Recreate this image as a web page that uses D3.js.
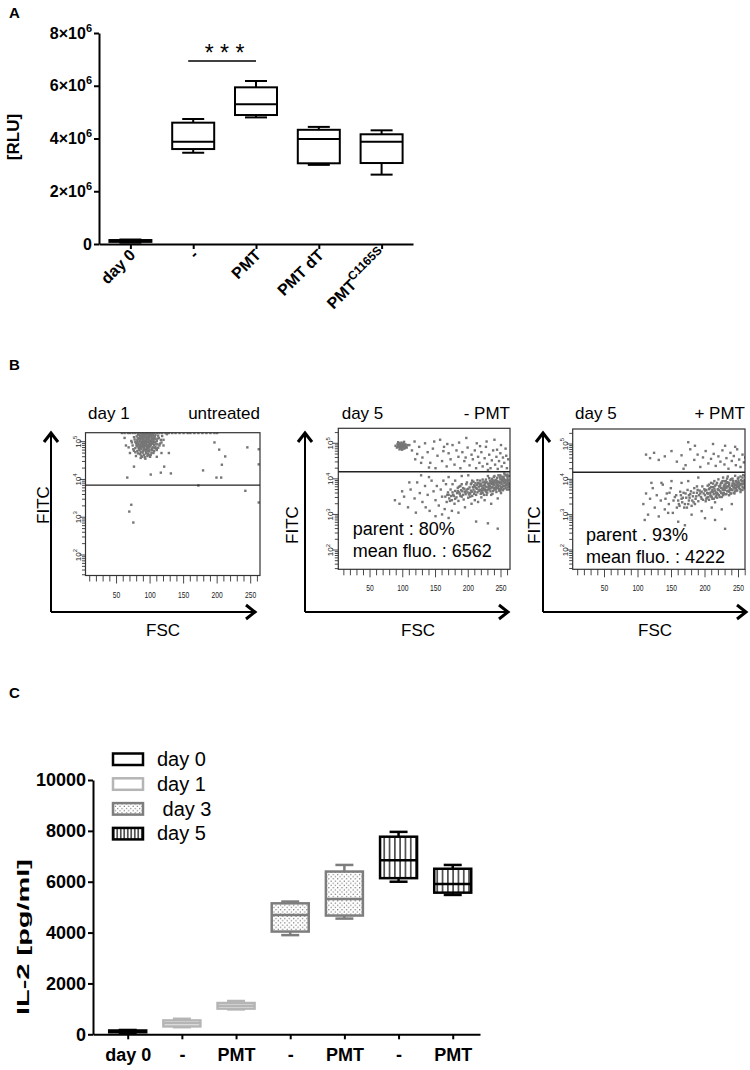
<!DOCTYPE html>
<html>
<head>
<meta charset="utf-8">
<script src="https://cdn.jsdelivr.net/npm/d3@7"></script>
<style>
  body { margin: 0; background: #fff; }
  svg { display: block; }
</style>
</head>
<body>
<div id="fig"></div>
<script>
// ---------- panel A : luciferase [RLU] ----------
var aCats = ["day 0", "-", "PMT", "PMT dT", "PMT C1165S"];
var aMin = [50000, 3460000, 4800000, 3000000, 2630000];
var aQ1  = [80000, 3600000, 4890000, 3060000, 3070000];
var aMed = [120000, 3880000, 5300000, 3980000, 3880000];
var aQ3  = [150000, 4600000, 5940000, 4330000, 4160000];
var aMax = [170000, 4740000, 6180000, 4440000, 4310000];
var aTicks = [0, 2e6, 4e6, 6e6, 8e6];

// ---------- panel C : IL-2 [pg/ml] ----------
var cLabels = ["day 0", "-", "PMT", "-", "PMT", "-", "PMT"];
var cDay    = ["day 0", "day 1", "day 1", "day 3", "day 3", "day 5", "day 5"];
var cMin = [40, 280, 980, 3900, 4550, 6000, 5480];
var cQ1  = [80, 310, 1010, 4040, 4670, 6140, 5570];
var cMed = [110, 430, 1120, 4690, 5320, 6840, 5910];
var cQ3  = [150, 545, 1230, 5150, 6400, 7770, 6510];
var cMax = [170, 610, 1310, 5220, 6660, 7960, 6660];
var cTicks = [0, 2000, 4000, 6000, 8000, 10000];
var legendDays = ["day 0", "day 1", " day 3", "day 5"];

// ---------- panel B : flow cytometry events [FSC, log10 FITC] ----------
var flow1Pts = [
  [88,5.18],[92,5.2],[96,5.19],[100,5.21],[104,5.17],[85,5.15],[90,5.14],[94,5.16],[98,5.15],[102,5.13],[106,5.12],
  [83,5.1],[87,5.11],[91,5.09],[95,5.1],[99,5.11],[103,5.08],[108,5.07],[81,5.05],[86,5.06],[89,5.04],[93,5.05],
  [97,5.06],[101,5.03],[105,5.04],[110,5.02],[84,5.0],[88,4.99],[92,5.01],[96,4.98],[100,5.0],[104,4.97],[107,4.99],
  [79,4.96],[82,4.94],[86,4.95],[90,4.93],[94,4.95],[98,4.92],[102,4.94],[106,4.91],[111,4.93],[80,4.88],[84,4.9],
  [88,4.87],[92,4.89],[96,4.86],[100,4.88],[104,4.85],[108,4.87],[78,4.83],[83,4.82],[87,4.8],[91,4.83],[95,4.81],
  [99,4.79],[103,4.82],[76,4.76],[81,4.75],[86,4.73],[90,4.76],[94,4.72],[98,4.74],[102,4.71],[85,4.67],[91,4.65],
  [97,4.68],[88,4.6],[79,4.62],[105,4.7],[110,4.78],[74,4.9],[72,5.02],[76,5.12],[113,5.1],[115,4.95],[68,4.85],
  [112,4.84],[93,4.55],[100,4.6],[70,4.7],[118,5.15],[120,5.05],[89,5.22],[95,5.23],[101,5.18],[97,5.13],[93,5.12],
  [89,5.08],[85,5.03],[91,4.97],[99,4.96],[95,4.9],[89,4.91],[97,4.84],[93,4.78],[89,4.71],[83,4.86],[107,5.14],
  [109,4.95],[87,5.16],[91,5.19],[95,5.06],[99,5.02],[103,4.99],[87,4.97],[93,4.93],[97,4.9],[101,4.91],[91,4.86],
  [85,4.84],[95,4.76],[99,4.85],[105,4.94],[82,5.08],[106,5.09],[90,5.0],[94,5.02],[98,5.08],[102,5.06],[86,4.9],
  [73,4.98],[77,5.06],[80,5.14],[84,5.19],[88,5.13],[92,5.17],[96,5.21],[100,5.16],[104,5.2],[108,5.18],[112,5.16],
  [116,5.05],[75,4.8],[78,4.72],[82,4.69],[87,4.63],[92,4.59],[96,4.62],[101,4.65],[106,4.75],[109,4.82],[114,4.9],
  [117,4.98],[81,4.99],[85,4.92],[89,4.96],[93,4.98],[97,5.0],[101,4.97],[105,5.01],[87,4.85],[91,4.8],[95,4.84],
  [99,4.77],[103,4.78],[84,4.78],[80,4.92],[107,4.83],[103,5.11],[99,5.18],[85,5.09],[90,5.11],[111,5.08],[94,4.69],
  [98,4.65],[86,4.57],[82,5.18],[78,5.0],[120,4.9],[64,4.9],[62,5.1],[125,5.2],[128,4.7],[110,4.6],[117,4.7],
  [58,5.23],[62,5.23],[67,5.23],[70,5.23],[74,5.23],[78,5.23],[82,5.23],[86,5.23],[90,5.23],[94,5.23],[98,5.23],
  [102,5.23],[106,5.23],[110,5.23],[114,5.23],[118,5.23],[123,5.23],[128,5.23],[133,5.23],[138,5.23],[144,5.23],
  [150,5.23],[156,5.23],[160,5.23],[166,5.23],[172,5.23],[178,5.23],[184,5.23],[190,5.23],[196,5.23],[200,5.23],
  [196,4.98],[203,4.79],[212,4.61],[207,4.39],[245,4.85],[179,4.24],[172,3.84],[242,3.7],[262,3.39],[72,3.33],
  [69,3.15],[75,2.86],[121,4.34],[131,4.16],[116,4.18],[76,4.34],[101,4.13],[66,4.05],[199,4.05],[206,4.05],
  [262,4.8],[262,4.4]
];
var flow2Pts = [
  [92,4.98],[95,5.0],[98,5.02],[101,4.99],[104,4.97],[93,4.93],[96,4.95],[99,4.94],[102,4.92],[105,4.9],[91,4.88],
  [94,4.9],[97,4.87],[100,4.89],[103,4.86],[95,4.83],[99,4.82],[97,4.97],[100,4.96],[94,4.95],[98,4.91],[96,4.85],
  [102,5.04],[107,4.95],[89,4.93],[101,4.85],[93,5.03],[106,4.88],[96,4.91],[99,4.98],[103,4.94],
  [110,4.95],[114,4.8],[118,5.05],[122,4.7],[125,4.9],[130,4.6],[134,5.0],[138,4.75],[142,4.45],[146,4.85],[150,4.3],
  [153,4.65],[157,5.1],[160,4.5],[163,4.9],[167,4.35],[170,4.72],[173,4.55],[176,4.95],[179,4.4],[182,4.8],[185,4.62],
  [188,4.3],[191,4.75],[194,4.5],[197,5.15],[199,4.88],[202,4.38],[205,4.68],[207,4.55],[210,4.8],[212,4.3],[215,4.62],
  [217,4.45],[220,4.75],[222,4.35],[225,4.58],[227,4.9],[229,4.42],[232,4.68],[234,4.3],[236,4.52],[238,4.8],[241,4.4],
  [243,4.62],[245,4.28],[247,4.5],[249,4.72],[251,4.35],[253,4.6],[255,4.45],[257,4.85],[259,4.3],[261,4.55],[240,5.1],
  [228,5.05],[213,5.0],[186,5.02],[168,4.98],[148,5.05],[128,4.45],[119,4.55],[140,4.32],[162,4.78],[196,4.6],[218,4.92],
  [230,4.25],[250,4.95],[258,4.65],[244,4.82],
  [212,3.75],[214,3.62],[215,3.88],[217,3.7],[218,3.95],[219,3.58],[220,3.8],[221,3.67],[222,3.9],[223,3.74],[224,3.55],
  [225,3.84],[226,3.69],[227,3.98],[228,3.77],[229,3.61],[230,3.87],[231,3.72],[232,4.02],[233,3.8],[234,3.65],[235,3.92],
  [236,3.76],[237,3.58],[238,3.85],[239,4.05],[240,3.7],[241,3.9],[242,3.78],[243,3.63],[244,3.95],[245,3.82],[246,4.1],
  [247,3.72],[248,3.88],[249,3.99],[250,3.76],[251,3.85],[252,4.06],[253,3.68],[254,3.92],[255,3.8],[256,4.12],[257,3.74],
  [258,3.96],[259,3.86],[260,4.02],[261,3.9],[262,3.78],[262,4.08],[213,3.83],[216,3.78],[219,3.86],[222,3.6],[225,3.72],
  [228,3.91],[231,3.84],[234,3.73],[237,3.97],[240,3.83],[243,3.88],[246,3.79],[249,3.66],[252,3.93],[255,3.99],[258,3.83],
  [261,3.97],[244,4.03],[236,3.86],[229,3.68],[250,3.71],[257,3.9],[248,3.81],[233,3.95],[226,3.79],[239,3.74],[253,3.81],
  [259,4.08],[242,3.97],[221,3.73],[247,3.92],[251,4.0],[255,3.88],[260,3.93],[238,3.91],[232,3.7],[245,3.74],[254,4.05],
  [200,3.72],[202,3.58],[204,3.85],[206,3.64],[208,3.92],[210,3.78],[212,3.55],[214,3.96],[216,3.66],[218,3.82],[220,3.62],
  [222,3.98],[224,3.68],[226,3.88],[228,3.55],[230,4.08],[232,3.79],[234,3.9],[236,4.0],[238,3.66],[240,3.95],[242,3.7],
  [244,3.84],[246,3.9],[248,4.05],[250,3.9],[252,3.77],[254,3.72],[256,3.95],[258,4.1],[260,3.76],[262,3.86],[217,3.87],
  [223,3.81],[227,3.64],[233,3.87],[237,3.78],[243,3.75],[247,3.67],[253,3.98],[257,3.81],[261,3.83],[251,3.95],[245,3.91],
  [239,3.84],[231,3.77],[225,3.92],[219,3.68],[213,3.72],[209,3.58],[196,3.65],[192,3.74],[188,3.52],[184,3.66],[180,3.44],
  [176,3.62],[172,3.38],[168,3.55],[190,3.85],[198,3.9],[186,3.78],[174,3.52],[206,3.95],[203,3.5],[211,3.88],[260,4.12],
  [255,4.15],[249,4.1],[240,4.08],[262,3.7],[259,3.7],[250,3.6],[235,3.55],[220,3.48],[210,3.4],
  [165,3.5],[167,3.35],[169,3.62],[171,3.45],[173,3.7],[175,3.4],[177,3.55],[179,3.3],[180,3.66],[182,3.48],[184,3.75],
  [185,3.38],[187,3.58],[188,3.8],[190,3.5],[191,3.65],[193,3.42],[194,3.72],[196,3.57],[197,3.85],[199,3.62],[200,3.47],
  [202,3.76],[203,3.6],[205,3.88],[206,3.52],[208,3.7],[209,3.82],[210,3.64],[178,3.52],[186,3.62],[192,3.55],[198,3.7],
  [204,3.67],[170,3.55],[183,3.6],[195,3.63],[201,3.56],[207,3.77],[189,3.68],
  [88,3.4],[95,3.3],[102,3.5],[108,3.2],[112,3.7],[118,3.45],[122,3.9],[126,3.6],[130,3.35],[134,3.8],[138,3.55],
  [141,3.1],[144,3.95],[147,3.65],[150,3.4],[152,3.8],[155,3.25],[158,3.7],[160,3.5],[162,3.95],[164,3.15],[140,4.05],
  [128,4.1],[170,4.05],[180,3.95],[190,4.08],[200,4.1],[175,3.1],[185,3.05],[195,3.2],[205,3.3],[215,3.35],[225,3.4],
  [235,3.3],[245,3.45],[150,2.95],[160,3.0],[170,2.9],[120,3.05],[110,3.9],[99,3.65],[135,3.2],[166,3.85],[176,3.85],
  [230,2.75],[245,2.6],[212,2.8]
];
var flow3Pts = [
  [112,4.7],[118,4.6],[124,4.75],[131,4.55],[140,4.65],[150,4.8],[158,4.5],[165,4.68],[171,4.4],[178,4.85],[184,4.55],
  [189,4.7],[193,4.35],[197,4.62],[201,4.8],[205,4.45],[209,4.58],[213,4.72],[216,4.38],[220,4.65],[223,4.5],[226,4.82],
  [229,4.42],[232,4.6],[235,4.3],[238,4.75],[240,4.52],[243,4.66],[246,4.4],[248,4.85],[251,4.56],[253,4.35],[256,4.7],
  [258,4.48],[260,4.62],[262,4.75],[175,5.05],[212,5.0],[185,4.95],[245,4.92],[230,4.95],[168,4.3],
  [200,3.55],[201,3.38],[202,3.7],[203,3.48],[204,3.82],[205,3.6],[206,3.42],[207,3.75],[208,3.55],[209,3.9],[210,3.65],
  [211,3.45],[212,3.78],[213,3.58],[214,3.95],[215,3.68],[216,3.5],[217,3.85],[218,3.62],[219,3.72],[220,4.0],[221,3.55],
  [222,3.8],[223,3.66],[224,3.9],[225,3.5],[226,3.74],[227,4.05],[228,3.62],[229,3.85],[230,3.7],[231,3.95],[232,3.58],
  [233,3.8],[234,4.08],[235,3.68],[236,3.9],[237,3.76],[238,3.6],[239,4.0],[240,3.82],[241,3.7],[242,3.95],[243,3.62],
  [244,3.88],[245,4.1],[246,3.75],[247,3.92],[248,3.68],[249,4.02],[250,3.8],[251,3.9],[252,3.72],[253,4.08],[254,3.85],
  [255,3.95],[256,3.78],[257,4.12],[258,3.88],[259,3.98],[260,3.82],[261,4.05],[262,3.92],[262,4.15],
  [203,3.62],[206,3.72],[209,3.52],[212,3.65],[215,3.82],[218,3.48],[221,3.7],[224,3.76],[227,3.55],[230,3.8],[233,3.66],
  [236,3.84],[239,3.72],[242,3.8],[245,3.66],[248,3.85],[251,3.76],[254,3.98],[257,3.86],[260,3.94],[244,3.74],[236,3.55],
  [229,3.75],[250,3.96],[256,3.7],[241,3.88],[233,3.92],[226,3.6],[219,3.58],[211,3.7],[252,3.84],[247,3.8],[238,3.7],
  [200,3.68],[202,3.45],[204,3.6],[206,3.85],[208,3.62],[210,3.5],[212,3.88],[214,3.74],[216,3.62],[218,3.9],[220,3.7],
  [222,3.5],[224,3.62],[226,3.95],[228,3.8],[230,3.58],[232,3.76],[234,3.9],[236,3.65],[238,3.98],[240,3.7],[242,3.88],
  [244,3.6],[246,3.95],[248,3.78],[250,4.05],[252,3.86],[254,3.7],[256,4.05],[258,3.76],[260,4.1],[262,3.84],[205,3.5],
  [213,3.45],[217,3.55],[223,3.85],[227,3.7],[231,3.88],[235,3.8],[239,3.6],[243,3.78],[247,3.7],[251,3.82],[255,3.88],
  [259,3.9],[261,3.72],[253,3.64],[245,3.84],[237,3.7],[229,3.95],[221,3.8],[215,3.35],[209,3.78],[199,3.72],[193,3.6],
  [187,3.52],[181,3.4],[177,3.48],[171,3.6],[165,3.45],[161,3.3],[189,3.7],[195,3.45],[183,3.35],[175,3.3],[169,3.2],
  [163,3.65],[157,3.55],[153,3.4],[147,3.62],[141,3.45],[145,3.05],[262,4.0],[257,3.95],[249,3.9],[241,4.02],[233,4.02],
  [225,3.9],
  [160,3.4],[162,3.25],[164,3.55],[166,3.35],[168,3.62],[170,3.3],[172,3.48],[174,3.7],[176,3.4],[178,3.58],[180,3.25],
  [182,3.52],[184,3.75],[186,3.45],[188,3.62],[190,3.38],[192,3.68],[194,3.5],[196,3.8],[198,3.6],[173,3.2],[185,3.3],
  [191,3.55],[197,3.42],[179,3.66],[167,3.48],[183,3.62],[195,3.65],[188,3.8],[176,3.55],
  [108,3.3],[112,3.6],[115,3.0],[118,3.45],[122,3.75],[125,3.2],[128,3.55],[131,2.95],[134,3.4],[137,3.85],[140,3.15],
  [143,3.6],[146,3.3],[149,3.75],[152,3.05],[155,3.5],[158,3.2],[120,3.9],[135,3.9],[150,3.95],[165,3.9],[175,3.95],
  [190,4.05],[180,3.0],[195,3.1],[210,3.2],[225,3.15],[240,3.3],[200,2.9],[215,2.85],[160,2.8],[110,2.85],[230,2.6],
  [170,2.7]
];
var flowTitles = ["day 1", "day 5", "day 5"];
var flowTags = ["untreated", "- PMT", "+ PMT"];
var flowStats = [null, ["parent : 80%", "mean fluo. : 6562"], ["parent . 93%", "mean fluo. : 4222"]];
var fscTicks = [50, 100, 150, 200, 250];
var fitcTicks = [2, 3, 4, 5];

var FONT = "'Liberation Sans', Arial, Helvetica, sans-serif";

var svg = d3.select("#fig").append("svg")
  .attr("width", 750).attr("height", 1070)
  .attr("font-family", FONT);
svg.append("rect").attr("width", 750).attr("height", 1070).attr("fill", "#fff");
var defs = svg.append("defs");

// fill patterns for panel C
var pDots = defs.append("pattern").attr("id", "dots").attr("patternUnits", "userSpaceOnUse")
  .attr("width", 4.4).attr("height", 4.4);
pDots.append("rect").attr("width", 4.4).attr("height", 4.4).attr("fill", "#fff");
pDots.append("circle").attr("cx", 1.1).attr("cy", 1.1).attr("r", 0.6).attr("fill", "#555");
pDots.append("circle").attr("cx", 3.3).attr("cy", 3.3).attr("r", 0.6).attr("fill", "#555");

function vlinePattern(id, step) {
  var p = defs.append("pattern").attr("id", id).attr("patternUnits", "userSpaceOnUse")
    .attr("width", step).attr("height", 10);
  p.append("rect").attr("width", step).attr("height", 10).attr("fill", "#fff");
  p.append("line").attr("x1", step / 2).attr("x2", step / 2).attr("y1", 0).attr("y2", 10)
    .attr("stroke", "#000").attr("stroke-width", 1.2);
}
vlinePattern("vlines", 5.3);
vlinePattern("vlinesLeg", 3.5);

var dayStyle = {
  "day 0": { stroke: "#000", fill: "#fff", legFill: "#fff" },
  "day 1": { stroke: "#b5b5b5", fill: "#fff", legFill: "#fff" },
  "day 3": { stroke: "#7d7d7d", fill: "url(#dots)", legFill: "url(#dots)" },
  "day 5": { stroke: "#000", fill: "url(#vlines)", legFill: "url(#vlinesLeg)" }
};

function drawBox(g, cx, w, capW, y, mn, q1, md, q3, mx, stroke, sw, fill) {
  var b = g.append("g").attr("stroke", stroke).attr("stroke-width", sw).attr("fill", "none");
  b.append("line").attr("x1", cx).attr("x2", cx).attr("y1", y(mx)).attr("y2", y(q3));
  b.append("line").attr("x1", cx).attr("x2", cx).attr("y1", y(q1)).attr("y2", y(mn));
  b.append("line").attr("x1", cx - capW / 2).attr("x2", cx + capW / 2).attr("y1", y(mx)).attr("y2", y(mx));
  b.append("line").attr("x1", cx - capW / 2).attr("x2", cx + capW / 2).attr("y1", y(mn)).attr("y2", y(mn));
  b.append("rect").attr("x", cx - w / 2).attr("width", w)
    .attr("y", y(q3)).attr("height", y(q1) - y(q3)).attr("fill", fill);
  b.append("line").attr("x1", cx - w / 2).attr("x2", cx + w / 2).attr("y1", y(md)).attr("y2", y(md));
}

function panelLetter(t, x, y) {
  svg.append("text").attr("x", x).attr("y", y).attr("font-size", 15).attr("font-weight", "bold").text(t);
}

// ================= Panel A =================
panelLetter("A", 9, 18);
var xA = d3.scalePoint().domain(aCats).range([99, 413]).padding(0.5);
var yA = d3.scaleLinear().domain([0, 8e6]).range([244, 33]);
var gA = svg.append("g");

var yAxisA = gA.append("g").attr("transform", "translate(99,0)")
  .call(d3.axisLeft(yA).tickValues(aTicks).tickSize(5).tickSizeOuter(0).tickPadding(2));
yAxisA.selectAll("text").each(function(d) {
  var t = d3.select(this).text("");
  if (d === 0) { t.text("0"); return; }
  t.append("tspan").text((d / 1e6) + "×10");
  t.append("tspan").attr("dy", -7).attr("font-size", 11).text("6");
});
var xAxisA = gA.append("g").attr("transform", "translate(0,244)")
  .call(d3.axisBottom(xA).tickSize(5).tickSizeOuter(0).tickFormat(""));
[yAxisA, xAxisA].forEach(function(ax) {
  ax.attr("font-family", FONT).attr("font-size", 16).attr("font-weight", "bold");
  ax.selectAll("path,line").attr("stroke", "#000").attr("stroke-width", 2);
  ax.selectAll("text").attr("fill", "#000");
});

aCats.forEach(function(c) {
  var t = gA.append("text")
    .attr("transform", "translate(" + (xA(c) + 6) + ",256) rotate(-45)")
    .attr("text-anchor", "end").attr("font-size", 16).attr("font-weight", "bold");
  if (c === "PMT C1165S") {
    t.append("tspan").text("PMT");
    t.append("tspan").attr("dy", -7).attr("font-size", 12).text("C1165S");
  } else {
    t.text(c);
  }
});

gA.append("text").attr("transform", "translate(18.5,137) rotate(-90)")
  .attr("text-anchor", "middle").attr("font-size", 17).attr("font-weight", "bold").text("[RLU]");

aCats.forEach(function(c, i) {
  drawBox(gA, xA(c), 42, 22, yA, aMin[i], aQ1[i], aMed[i], aQ3[i], aMax[i], "#000", 2, "#fff");
});

// significance bar
gA.append("line").attr("x1", xA("-") - 5).attr("x2", xA("PMT")).attr("y1", 61).attr("y2", 61)
  .attr("stroke", "#000").attr("stroke-width", 1.3);
gA.append("text").attr("x", (xA("-") + xA("PMT")) / 2).attr("y", 60.5)
  .attr("text-anchor", "middle").attr("font-size", 23).text("* * *");

// ================= Panel B =================
panelLetter("B", 9, 370);
var flowCfg = [
  { id: "clip1", fx0: 85.5, fx1: 260, fy0: 432.7, fy1: 575.5, xr: [83, 250.7], yr: [555, 441.7], gate: 3.85,
    ax: 51, axEnd: 255, fitcX: 48.5, fitcY: 505, fscX: 163, titleX: 88, tagX: 260, statX: 0, statY: 0 },
  { id: "clip2", fx0: 338.3, fx1: 510, fy0: 428.3, fy1: 569.3, xr: [337.3, 501], yr: [550, 443.3], gate: 4.2,
    ax: 305, axEnd: 508, fitcX: 298, fitcY: 525, fscX: 418, titleX: 341.7, tagX: 510, statX: 352.7, statY: 535 },
  { id: "clip3", fx0: 572.7, fx1: 745, fy0: 429, fy1: 569.3, xr: [571, 738.5], yr: [550, 444], gate: 4.2,
    ax: 543, axEnd: 746, fitcX: 540, fitcY: 525, fscX: 655, titleX: 575, tagX: 745, statX: 586, statY: 541 }
];
var flowPts = [flow1Pts, flow2Pts, flow3Pts];

flowCfg.forEach(function(cfg, k) {
  var g = svg.append("g");
  var x = d3.scaleLinear().domain([0, 250]).range(cfg.xr);
  var y = d3.scaleLog().domain([1e2, 1e5]).range(cfg.yr);

  defs.append("clipPath").attr("id", cfg.id).append("rect")
    .attr("x", cfg.fx0).attr("y", cfg.fy0).attr("width", cfg.fx1 - cfg.fx0).attr("height", cfg.fy1 - cfg.fy0);

  g.append("g").attr("clip-path", "url(#" + cfg.id + ")")
    .selectAll("rect").data(flowPts[k]).join("rect")
    .attr("x", function(d) { return x(d[0]) - 1.2; })
    .attr("y", function(d) { return y(Math.pow(10, d[1])) - 1.2; })
    .attr("width", 2.4).attr("height", 2.4).attr("fill", "#767676");

  g.append("rect").attr("x", cfg.fx0).attr("y", cfg.fy0)
    .attr("width", cfg.fx1 - cfg.fx0).attr("height", cfg.fy1 - cfg.fy0)
    .attr("fill", "none").attr("stroke", "#333").attr("stroke-width", 1.2);
  var gy = y(Math.pow(10, cfg.gate));
  g.append("line").attr("x1", cfg.fx0).attr("x2", cfg.fx1).attr("y1", gy).attr("y2", gy)
    .attr("stroke", "#222").attr("stroke-width", 1.3);

  // log FITC ticks (minor + major)
  var yFull = d3.scaleLog().domain([y.invert(cfg.fy1), y.invert(cfg.fy0)]).range([cfg.fy1, cfg.fy0]);
  yFull.ticks().forEach(function(v) {
    var ly = yFull(v);
    var major = Math.abs(Math.log10(v) - Math.round(Math.log10(v))) < 1e-6;
    g.append("line").attr("x1", cfg.fx0).attr("x2", cfg.fx0 - (major ? 6 : 3.5))
      .attr("y1", ly).attr("y2", ly).attr("stroke", "#333").attr("stroke-width", 0.9);
  });
  fitcTicks.forEach(function(e) {
    var t = g.append("text")
      .attr("transform", "translate(" + (cfg.fx0 - 5) + "," + y(Math.pow(10, e)) + ") rotate(-90)")
      .attr("text-anchor", "middle").attr("font-size", 8).attr("fill", "#222");
    t.append("tspan").text("10");
    t.append("tspan").attr("dy", -3.5).attr("font-size", 6).text(e);
  });

  // FSC ticks
  d3.range(10, 265, 10).forEach(function(v) {
    var lx = x(v);
    if (lx > cfg.fx1 + 0.5) return;
    var major = v % 50 === 0;
    g.append("line").attr("x1", lx).attr("x2", lx).attr("y1", cfg.fy1).attr("y2", cfg.fy1 + (major ? 8 : 6))
      .attr("stroke", "#333").attr("stroke-width", 0.9);
  });
  fscTicks.forEach(function(v) {
    g.append("text").attr("transform", "translate(" + x(v) + "," + (cfg.fy1 + 22) + ") scale(0.75,1)")
      .attr("text-anchor", "middle").attr("font-size", 9).attr("fill", "#222").text(v);
  });

  // big axis arrows
  var ay = 612;
  g.append("path").attr("d", "M" + cfg.ax + "," + ay + "V433M" + cfg.ax + "," + ay + "H" + cfg.axEnd)
    .attr("fill", "none").attr("stroke", "#000").attr("stroke-width", 2);
  g.append("path").attr("d", "M" + (cfg.ax - 7) + ",442L" + cfg.ax + ",433L" + (cfg.ax + 7) + ",442")
    .attr("fill", "none").attr("stroke", "#000").attr("stroke-width", 3);
  g.append("path").attr("d", "M" + (cfg.axEnd - 9) + "," + (ay - 7) + "L" + cfg.axEnd + "," + ay + "L" + (cfg.axEnd - 9) + "," + (ay + 7))
    .attr("fill", "none").attr("stroke", "#000").attr("stroke-width", 3);

  g.append("text").attr("transform", "translate(" + cfg.fitcX + "," + cfg.fitcY + ") rotate(-90)")
    .attr("text-anchor", "middle").attr("font-size", 17).text("FITC");
  g.append("text").attr("x", cfg.fscX).attr("y", 636).attr("text-anchor", "middle")
    .attr("font-size", 17).text("FSC");
  g.append("text").attr("x", cfg.titleX).attr("y", 419).attr("font-size", 17).text(flowTitles[k]);
  g.append("text").attr("x", cfg.tagX).attr("y", 419).attr("text-anchor", "end")
    .attr("font-size", 17).text(flowTags[k]);

  if (flowStats[k]) {
    flowStats[k].forEach(function(s, j) {
      g.append("text").attr("x", cfg.statX).attr("y", cfg.statY + j * 21.5)
        .attr("font-size", 18).text(s);
    });
  }
});

// ================= Panel C =================
panelLetter("C", 9, 698);
var cIdx = d3.range(cLabels.length);
var xC = d3.scalePoint().domain(cIdx).range([93, 480]).padding(0.572).align(0.56);
var yC = d3.scaleLinear().domain([0, 10000]).range([1034.3, 780]);
var gC = svg.append("g");

var yAxisC = gC.append("g").attr("transform", "translate(93,0)")
  .call(d3.axisLeft(yC).tickValues(cTicks).tickSize(5).tickSizeOuter(0).tickPadding(2).tickFormat(d3.format("d")));
var xAxisC = gC.append("g").attr("transform", "translate(0,1034.3)")
  .call(d3.axisBottom(xC).tickSize(5).tickSizeOuter(0).tickPadding(9)
    .tickFormat(function(i) { return cLabels[i]; }));
[yAxisC, xAxisC].forEach(function(ax) {
  ax.attr("font-family", FONT).attr("font-size", 18).attr("font-weight", "bold");
  ax.selectAll("path,line").attr("stroke", "#000").attr("stroke-width", 2);
  ax.selectAll("text").attr("fill", "#000");
});

gC.append("text").attr("transform", "translate(29,937) rotate(-90)")
  .attr("text-anchor", "middle").attr("font-size", 17).attr("font-weight", "bold")
  .attr("textLength", 156).attr("lengthAdjust", "spacingAndGlyphs").text("IL-2 [pg/ml]");

cIdx.forEach(function(i) {
  var st = dayStyle[cDay[i]];
  drawBox(gC, xC(i), 37, 18, yC, cMin[i], cQ1[i], cMed[i], cQ3[i], cMax[i], st.stroke, 2.5, st.fill);
});

// legend
var leg = gC.append("g");
legendDays.forEach(function(lbl, i) {
  var st = dayStyle[lbl.trim()];
  var ly = 753.5 + i * 24.8;
  leg.append("rect").attr("x", 113).attr("y", ly).attr("width", 30).attr("height", 11.5)
    .attr("fill", st.legFill).attr("stroke", st.stroke).attr("stroke-width", 2.5);
  leg.append("text").attr("x", 157).attr("y", ly + 12.5).attr("font-size", 20)
    .attr("xml:space", "preserve").style("white-space", "pre").text(lbl);
});
</script>
</body>
</html>
